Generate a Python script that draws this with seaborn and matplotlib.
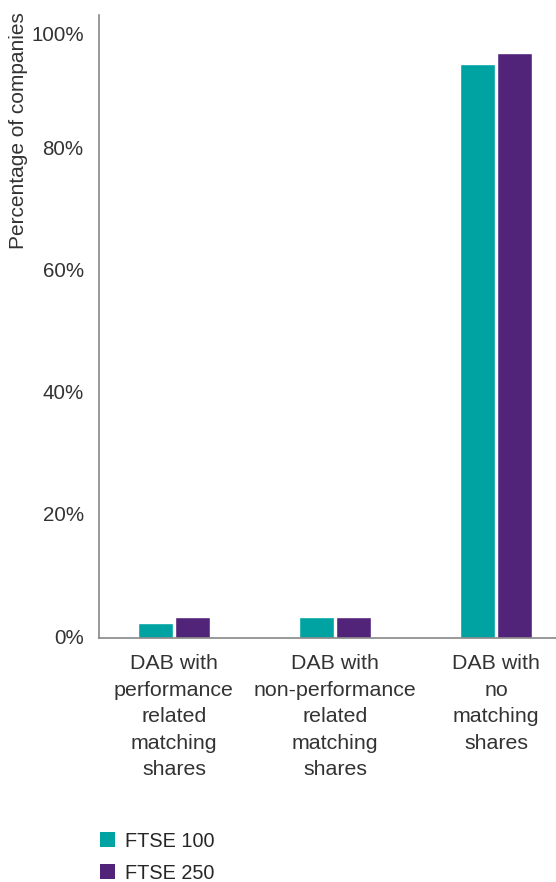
import matplotlib
matplotlib.use("Agg")
import matplotlib.pyplot as plt
import matplotlib.transforms as mtransforms
import seaborn as sns
import pandas as pd
from matplotlib.patches import Patch

categories = [
    "DAB with\nperformance\nrelated\nmatching\nshares",
    "DAB with\nnon-performance\nrelated\nmatching\nshares",
    "DAB with\nno\nmatching\nshares",
]
series_names = ["FTSE 100", "FTSE 250"]
ftse100 = [2.5, 3.4, 94.1]
ftse250 = [3.4, 3.4, 95.9]
ytick_values = [0, 20, 40, 60, 80, 100]
ytick_labels = ["0%", "20%", "40%", "60%", "80%", "100%"]
colors = ["#00A3A1", "#51247A"]

df = pd.DataFrame({
    "category": categories * 2,
    "series": [series_names[0]] * 3 + [series_names[1]] * 3,
    "value": ftse100 + ftse250,
})

sns.set_theme(style="white")
plt.rcParams["font.family"] = ["Liberation Sans", "DejaVu Sans"]

fig = plt.figure(figsize=(5.56, 8.82), dpi=100)
ax = fig.add_axes([0.178, 0.2766, 0.822, 0.7064])

sns.barplot(data=df, x="category", y="value", hue="series", order=categories,
            hue_order=series_names, palette=colors, width=0.455, gap=0.03,
            saturation=1, errorbar=None, legend=False, ax=ax)

txt = "#333333"
ax.set_xlim(-0.466, 2.373)
ax.set_ylim(0, 102.1)
ax.set_yticks(ytick_values)
ax.set_yticklabels(ytick_labels, fontsize=14.8, color=txt)
ax.tick_params(axis="x", labelsize=15.4, colors=txt, length=0, pad=11.5)
ax.tick_params(axis="y", length=0, pad=11)
for lbl in ax.get_xticklabels():
    lbl.set_linespacing(1.5)
# shift y tick labels slightly up, and the top one down as in the reference
ylbls = ax.get_yticklabels()
for i, lbl in enumerate(ylbls):
    dy = 2 if i < len(ylbls) - 1 else -6
    lbl.set_transform(lbl.get_transform() +
                      mtransforms.ScaledTranslation(0, dy / 100, fig.dpi_scale_trans))
ax.set_xlabel("")
ax.set_ylabel("Percentage of companies", fontsize=15, color=txt)
ax.yaxis.set_label_coords(-0.155, 0.815)

for side in ["top", "right"]:
    ax.spines[side].set_visible(False)
for side in ["left", "bottom"]:
    ax.spines[side].set_color("#888888")
    ax.spines[side].set_linewidth(1.2)

handles = [Patch(facecolor=c, edgecolor="none") for c in colors]
fig.legend(handles, series_names, loc="upper left", bbox_to_anchor=(0.179, 0.057),
           frameon=False, fontsize=14.3, handlelength=0.8, handleheight=0.8,
           handletextpad=0.5, labelspacing=0.65, borderaxespad=0, borderpad=0)

fig.savefig("out.png", dpi=100)
